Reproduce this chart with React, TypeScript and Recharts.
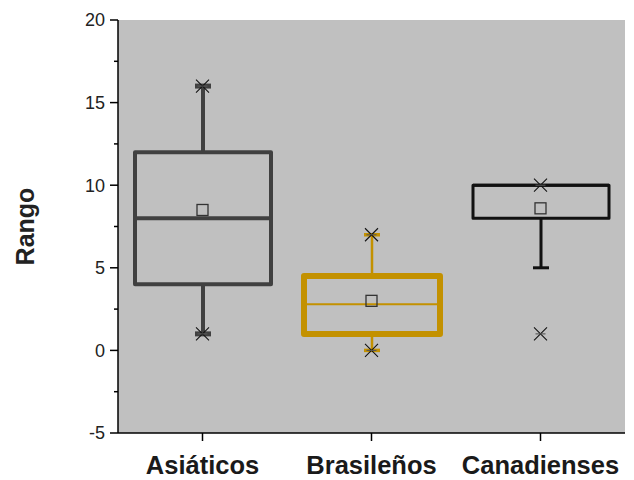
import { ComposedChart, Bar, Scatter, XAxis, YAxis, ReferenceArea } from "recharts";

const categories = ["Asiáticos", "Brasileños", "Canadienses"];
const lowerQuartile = [4, 1, 8];
const medians = [8, 2.8, 10];
const upperQuartile = [12, 4.5, 10];
const whiskerLow = [1, 0, 5];
const whiskerHigh = [16, 7, 10];
const means = [8.5, 3, 8.6];
const minimums = [1, 0, 1];
const maximums = [16, 7, 10];
const yTicks = [-5, -2.5, 0, 2.5, 5, 7.5, 10, 12.5, 15, 17.5, 20];

// per-box look, kept apart from the values
const boxLooks = [
  { color: "#404040", box: 4, median: 4, whisker: 4, cap: 5 },
  { color: "#c39100", box: 6, median: 2, whisker: 2.5, cap: 3.5 },
  { color: "#111111", box: 3, median: 3, whisker: 3, cap: 3 },
];

const data = categories.map((name, i) => ({
  name,
  span: [minimums[i], maximums[i]],
  q1: lowerQuartile[i],
  med: medians[i],
  q3: upperQuartile[i],
  wLo: whiskerLow[i],
  wHi: whiskerHigh[i],
  mean: means[i],
  min: minimums[i],
  max: maximums[i],
}));

const FONT = "'Liberation Sans', Arial, sans-serif";
const TICK = 8;
const GAP = 6;
const CAP = 8;

function BoxShape(props: any) {
  const { x, y, width, height, index, payload } = props;
  const [lo, hi] = payload.span;
  const top = Math.min(y, y + height);
  const h = Math.abs(height);
  const py = (v: number) => top + ((hi - v) / (hi - lo)) * h;
  const look = boxLooks[index];
  const cx = x + width / 2;
  const yq1 = py(payload.q1);
  const yq3 = py(payload.q3);
  return (
    <g>
      {payload.wHi > payload.q3 && (
        <g stroke={look.color}>
          <line x1={cx} x2={cx} y1={yq3} y2={py(payload.wHi)} strokeWidth={look.whisker} />
          <line x1={cx - CAP} x2={cx + CAP} y1={py(payload.wHi)} y2={py(payload.wHi)} strokeWidth={look.cap} />
        </g>
      )}
      {payload.wLo < payload.q1 && (
        <g stroke={look.color}>
          <line x1={cx} x2={cx} y1={yq1} y2={py(payload.wLo)} strokeWidth={look.whisker} />
          <line x1={cx - CAP} x2={cx + CAP} y1={py(payload.wLo)} y2={py(payload.wLo)} strokeWidth={look.cap} />
        </g>
      )}
      <rect
        x={x}
        y={yq3}
        width={width}
        height={yq1 - yq3}
        fill="none"
        stroke={look.color}
        strokeWidth={look.box}
        strokeLinejoin="round"
      />
      <line x1={x} x2={x + width} y1={py(payload.med)} y2={py(payload.med)} stroke={look.color} strokeWidth={look.median} />
    </g>
  );
}

function MeanShape(props: any) {
  const { cx, cy } = props;
  return <rect x={cx - 5.5} y={cy - 5.5} width={11} height={11} fill="none" stroke="#333" strokeWidth={1.3} />;
}

function CrossShape(props: any) {
  const { cx, cy } = props;
  const s = 6.5;
  return (
    <g stroke="#111" strokeWidth={1.1}>
      <line x1={cx - s} y1={cy - s} x2={cx + s} y2={cy + s} />
      <line x1={cx - s} y1={cy + s} x2={cx + s} y2={cy - s} />
      <line x1={cx - 5} y1={cy} x2={cx + 5} y2={cy} stroke="#555" />
    </g>
  );
}

function YTick(props: any) {
  const { x, y, payload } = props;
  const v = payload.value;
  const major = v % 5 === 0;
  const axisX = x + GAP + TICK;
  return (
    <g>
      <line x1={axisX - (major ? TICK : 4)} x2={axisX} y1={y} y2={y} stroke="#000" strokeWidth={1.5} />
      {major && (
        <text x={x + 1} y={y} dy="0.36em" textAnchor="end" fontSize={18} fill="#222" fontFamily={FONT}>
          {v}
        </text>
      )}
    </g>
  );
}

function RangoLabel(props: any) {
  const vb = props.viewBox;
  const lx = 34;
  const ly = vb.y + vb.height / 2;
  return (
    <text
      x={lx}
      y={ly}
      transform={`rotate(-90 ${lx} ${ly})`}
      textAnchor="middle"
      fontSize={25}
      fontWeight="bold"
      fill="#222"
      fontFamily={FONT}
    >
      Rango
    </text>
  );
}

export default function App() {
  return (
    <div style={{ width: 634, height: 480, background: "#fff" }}>
      <style>{"body{margin:0}"}</style>
      <ComposedChart width={634} height={480} data={data} margin={{ top: 20, right: 9, bottom: 0, left: 0 }}>
        <ReferenceArea y1={-5} y2={20} fill="#c0c0c0" fillOpacity={1} stroke="none" ifOverflow="visible" />
        <XAxis
          dataKey="name"
          height={47}
          tickSize={TICK}
          tickMargin={15}
          axisLine={{ stroke: "#000", strokeWidth: 1.5 }}
          tickLine={{ stroke: "#000", strokeWidth: 1.5 }}
          tick={{ fontSize: 25.5, fontWeight: "bold", fill: "#1a1a1a", fontFamily: FONT }}
          interval={0}
        />
        <YAxis
          type="number"
          domain={[-5, 20]}
          ticks={yTicks}
          width={118}
          tickSize={TICK}
          tickMargin={GAP}
          interval={0}
          axisLine={{ stroke: "#000", strokeWidth: 1.5 }}
          tickLine={{ stroke: "none" }}
          tick={<YTick />}
          label={{ content: (p: any) => <RangoLabel {...p} /> }}
        />
        <Bar dataKey="span" barSize={136} shape={<BoxShape />} isAnimationActive={false} />
        <Scatter dataKey="mean" shape={<MeanShape />} isAnimationActive={false} />
        <Scatter dataKey="max" shape={<CrossShape />} isAnimationActive={false} />
        <Scatter dataKey="min" shape={<CrossShape />} isAnimationActive={false} />
      </ComposedChart>
    </div>
  );
}
